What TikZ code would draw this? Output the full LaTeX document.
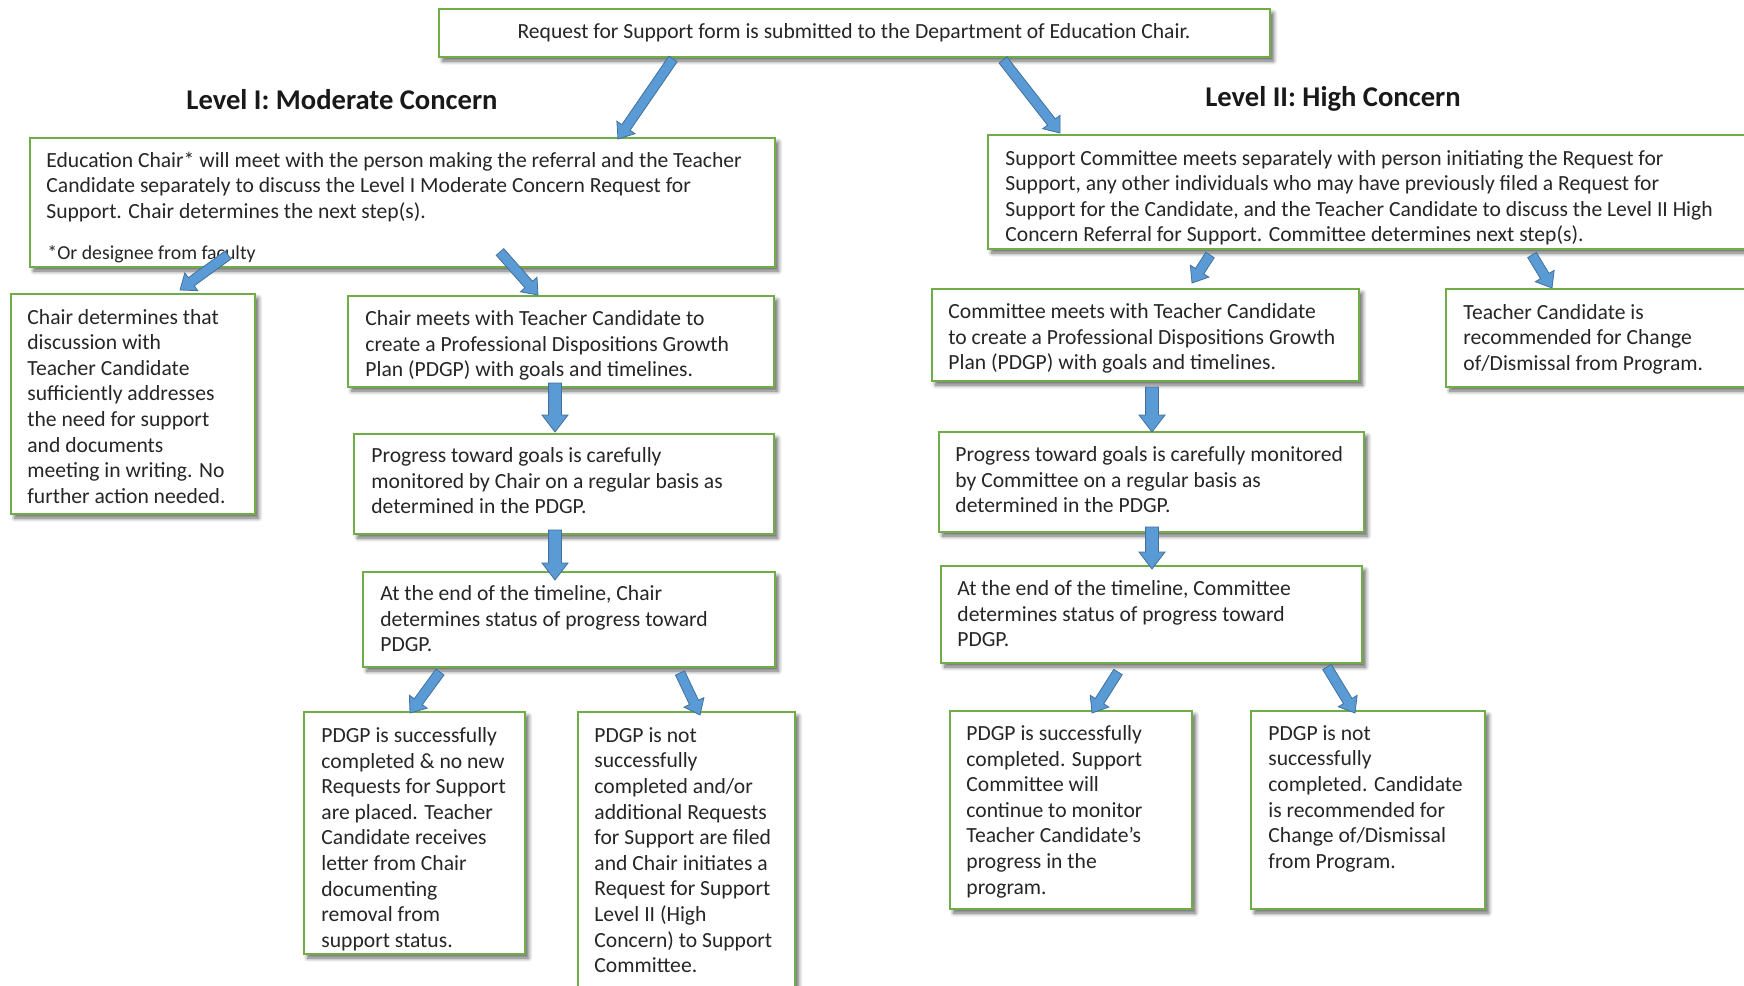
\documentclass[tikz,border=0pt]{standalone}
\usepackage{fontspec}
\setmainfont{Carlito}
\usetikzlibrary{calc,fit,shadows.blur}
\definecolor{boxgreen}{HTML}{70AD47}
\definecolor{arrfill}{HTML}{5B9BD5}
\definecolor{arrline}{HTML}{41719C}
\newcommand{\blockarr}[5]{%
  \coordinate (#1h) at ($(#2)!#5!(#1)$);
  \filldraw[arrowsty] ($(#1)!#3!90:(#2)$) -- ($(#1h)!#3!90:(#2)$) -- ($(#1h)!#4!90:(#2)$) -- (#2)
     -- ($(#1h)!#4!-90:(#2)$) -- ($(#1h)!#3!-90:(#2)$) -- ($(#1)!#3!-90:(#2)$) -- cycle;
}
\begin{document}
\begin{tikzpicture}[x=0.5pt,y=-0.5pt,
  box/.style={draw=boxgreen, line width=1pt, fill=white, inner sep=0pt,
     blur shadow={shadow xshift=1.8pt, shadow yshift=-2pt, shadow blur radius=2pt, shadow blur steps=6, shadow opacity=60}},
  txt/.style={font=\fontsize{10.8}{12.8}\selectfont, align=left, inner sep=0pt, anchor=north west, text=black!85, execute at begin node=\strut},
  foot/.style={font=\fontsize{9.9}{11}\selectfont, inner sep=0pt, anchor=base west, text=black!85},
  head/.style={font=\fontsize{14.3}{16}\selectfont\bfseries, inner sep=0pt, anchor=base, text=black!90},
  arrowsty/.style={fill=arrfill, draw=arrline, line width=0.4pt, line join=miter}
]
\useasboundingbox (0,0) rectangle (1744,985);

% boxes
\node[box, fit={(439,9) (1270,57)}] (top) {};
\node[box, fit={(30,138) (775,267)}] (L1) {};
\node[box, fit={(11,294) (255,514)}] (L2a) {};
\node[box, fit={(348,296) (774,387)}] (L2b) {};
\node[box, fit={(354,434) (774,534)}] (L3) {};
\node[box, fit={(363,572) (775,667)}] (L4) {};
\node[box, fit={(304,712) (525,954)}] (L5a) {};
\node[box, fit={(578,712) (795,1000)}] (L5b) {};
\node[box, fit={(988,135) (1760,249)}] (R1) {};
\node[box, fit={(932,289) (1359,381)}] (R2a) {};
\node[box, fit={(1446,289) (1760,387)}] (R2b) {};
\node[box, fit={(939,432) (1364,532)}] (R3) {};
\node[box, fit={(941,566) (1362,663)}] (R4) {};
\node[box, fit={(950,711) (1192,909)}] (R5a) {};
\node[box, fit={(1251,711) (1485,909)}] (R5b) {};

% headings
\node[head] (h1) at (342,109) {Level I: Moderate Concern};
\node[head] (h2) at (1333,106) {Level II: High Concern};

% texts
\node[txt, anchor=base, align=center, execute at begin node={}] (ttop) at (854,38) {Request for Support form is submitted to the Department of Education Chair.};
\node[txt] (tL1) at ([xshift=8.5pt,yshift=-7.3pt]L1.north west) {Education Chair* will meet with the person making the referral and the Teacher\\Candidate separately to discuss the Level I Moderate Concern Request for\\Support.  Chair determines the next step(s).};
\node[foot] (fn) at (47,259) {*Or designee from faculty};
\node[txt] (tL2a) at ([xshift=8.5pt,yshift=-7.8pt]L2a.north west) {Chair determines that\\discussion with\\Teacher Candidate\\sufficiently addresses\\the need for support\\and documents\\meeting in writing.  No\\further action needed.};
\node[txt] (tL2b) at ([xshift=9pt,yshift=-7.5pt]L2b.north west) {Chair meets with Teacher Candidate to\\create a Professional Dispositions Growth\\Plan (PDGP) with goals and timelines.};
\node[txt] (tL3) at ([xshift=9pt,yshift=-7pt]L3.north west) {Progress toward goals is carefully\\monitored by Chair on a regular basis as\\determined in the PDGP.};
\node[txt] (tL4) at ([xshift=9pt,yshift=-7pt]L4.north west) {At the end of the timeline, Chair\\determines status of progress toward\\PDGP.};
\node[txt] (tL5a) at ([xshift=9pt,yshift=-8pt]L5a.north west) {PDGP is successfully\\completed \& no new\\Requests for Support\\are placed. Teacher\\Candidate receives\\letter from Chair\\documenting\\removal from\\support status.};
\node[txt] (tL5b) at ([xshift=8.5pt,yshift=-8pt]L5b.north west) {PDGP is not\\successfully\\completed and/or\\additional Requests\\for Support are filed\\and Chair initiates a\\Request for Support\\Level II (High\\Concern) to Support\\Committee.};
\node[txt] (tR1) at ([xshift=9pt,yshift=-7.8pt]R1.north west) {Support Committee meets separately with person initiating the Request for\\Support, any other individuals who may have previously filed a Request for\\Support for the Candidate, and the Teacher Candidate to discuss the Level II High\\Concern Referral for Support.  Committee determines next step(s).};
\node[txt] (tR2a) at ([xshift=8.5pt,yshift=-7.5pt]R2a.north west) {Committee meets with Teacher Candidate\\to create a Professional Dispositions Growth\\Plan (PDGP) with goals and timelines.};
\node[txt] (tR2b) at ([xshift=9pt,yshift=-7.8pt]R2b.north west) {Teacher Candidate is\\recommended for Change\\of/Dismissal from Program.};
\node[txt] (tR3) at ([xshift=8.5pt,yshift=-7.5pt]R3.north west) {Progress toward goals is carefully monitored\\by Committee on a regular basis as\\determined in the PDGP.};
\node[txt] (tR4) at ([xshift=8.5pt,yshift=-7.5pt]R4.north west) {At the end of the timeline, Committee\\determines status of progress toward\\PDGP.};
\node[txt] (tR5a) at ([xshift=8.5pt,yshift=-7.5pt]R5a.north west) {PDGP is successfully\\completed.  Support\\Committee will\\continue to monitor\\Teacher Candidate’s\\progress in the\\program.};
\node[txt] (tR5b) at ([xshift=9pt,yshift=-7.5pt]R5b.north west) {PDGP is not\\successfully\\completed.  Candidate\\is recommended for\\Change of/Dismissal\\from Program.};

% arrow end points
\coordinate (a1s) at (673,59);   \coordinate (a1e) at (618,139);
\coordinate (a2s) at (1003,60);  \coordinate (a2e) at (1060,133);
\coordinate (a3s) at (228,255);  \coordinate (a3e) at (180,290);
\coordinate (a4s) at (500,252);  \coordinate (a4e) at (538,295);
\coordinate (a5s) at (555,383);  \coordinate (a5e) at (555,432);
\coordinate (a6s) at (555,530);  \coordinate (a6e) at (555,580);
\coordinate (a7s) at (440,672);  \coordinate (a7e) at (410,713);
\coordinate (a8s) at (680,673);  \coordinate (a8e) at (700,715);
\coordinate (a9s) at (1210,255); \coordinate (a9e) at (1192,283);
\coordinate (a10s) at (1532,255); \coordinate (a10e) at (1552,288);
\coordinate (a11s) at (1152,387); \coordinate (a11e) at (1152,432);
\coordinate (a12s) at (1152,527); \coordinate (a12e) at (1152,569);
\coordinate (a13s) at (1118,672); \coordinate (a13e) at (1092,713);
\coordinate (a14s) at (1327,667); \coordinate (a14e) at (1355,713);

\blockarr{a1s}{a1e}{2.5pt}{5.5pt}{7pt}
\blockarr{a2s}{a2e}{2.5pt}{5.5pt}{7pt}
\blockarr{a3s}{a3e}{2.5pt}{5.5pt}{7pt}
\blockarr{a4s}{a4e}{2.5pt}{5.5pt}{7pt}
\blockarr{a5s}{a5e}{3.2pt}{6.5pt}{8.5pt}
\blockarr{a6s}{a6e}{3.2pt}{6.5pt}{8.5pt}
\blockarr{a7s}{a7e}{2.5pt}{5.5pt}{7pt}
\blockarr{a8s}{a8e}{2.5pt}{5.5pt}{7pt}
\blockarr{a9s}{a9e}{2.5pt}{5.5pt}{7pt}
\blockarr{a10s}{a10e}{2.5pt}{5.5pt}{7pt}
\blockarr{a11s}{a11e}{3.2pt}{6.5pt}{8.5pt}
\blockarr{a12s}{a12e}{3.2pt}{6.5pt}{8.5pt}
\blockarr{a13s}{a13e}{2.5pt}{5.5pt}{7pt}
\blockarr{a14s}{a14e}{2.5pt}{5.5pt}{7pt}
\end{tikzpicture}
\end{document}
